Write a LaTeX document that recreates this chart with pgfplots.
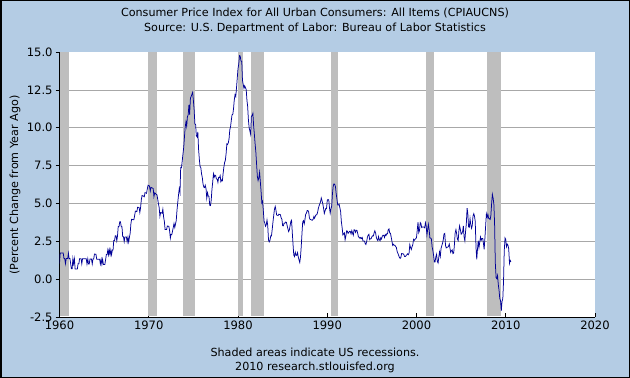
\documentclass[border=0pt]{standalone}
\usepackage{pgfplots}
\pgfplotsset{compat=1.18}
\usepackage{fontspec}
\setmainfont{DejaVu Sans}
\definecolor{bgblue}{RGB}{180,204,228}
\definecolor{recgray}{RGB}{190,190,190}
\definecolor{gridgray}{RGB}{168,168,168}
\definecolor{lineblue}{RGB}{0,0,150}
\newcommand{\chf}{\fontsize{11.2}{13}\selectfont}
\newcommand{\tkf}{\fontsize{11.6}{13}\selectfont}
\begin{document}
\chf
\begin{tikzpicture}
\fill[bgblue] (0bp,0bp) rectangle (630bp,378bp);
\draw[black, line width=1.5bp] (0.75bp,0.75bp) rectangle (629.25bp,377.25bp);
\node[font=\chf] at (315bp,365bp) {Consumer Price Index for All Urban Consumers: All Items (CPIAUCNS)};
\node[font=\chf] at (315bp,350bp) {Source: U.S. Department of Labor: Bureau of Labor Statistics};
\node[font=\chf] at (315bp,26bp) {Shaded areas indicate US recessions.};
\node[font=\chf] at (315bp,11bp) {2010 research.stlouisfed.org};
\node[font=\chf, rotate=90] at (15bp,193bp) {(Percent Change from Year Ago)};
\begin{axis}[
  at={(59.5bp,61bp)}, anchor=south west,
  scale only axis, width=535.5bp, height=265bp,
  xmin=1960, xmax=2020, ymin=-2.5, ymax=15,
  axis lines*=left,
  axis line style={black, line width=0.9bp},
  axis background/.style={fill=white},
  xtick={1960,1970,1980,1990,2000,2010,2020},
  ytick={-2.5,0,2.5,5,7.5,10,12.5},
  extra y ticks={15},
  extra y tick style={grid=none},
  ymajorgrids,
  grid style={gridgray, line width=0.7bp},
  xtick align=inside, ytick align=outside,
  major tick length=4bp,
  tick style={black, line width=0.7bp},
  /pgf/number format/assume math mode=true,
  tick label style={font=\tkf},
  yticklabel style={/pgf/number format/fixed, /pgf/number format/fixed zerofill, /pgf/number format/precision=1, xshift=1bp},
  extra y tick labels={15.0},
  xticklabel style={/pgf/number format/set thousands separator={}},
]
% recession bars
\addplot[fill=recgray, draw=none] coordinates {(1960.06,-2.45)(1960.06,15)(1961.1,15)(1961.1,-2.45)} -- cycle;
\addplot[fill=recgray, draw=none] coordinates {(1969.92,-2.45)(1969.92,15)(1970.9,15)(1970.9,-2.45)} -- cycle;
\addplot[fill=recgray, draw=none] coordinates {(1973.83,-2.45)(1973.83,15)(1975.2,15)(1975.2,-2.45)} -- cycle;
\addplot[fill=recgray, draw=none] coordinates {(1980.0,-2.45)(1980.0,15)(1980.58,15)(1980.58,-2.45)} -- cycle;
\addplot[fill=recgray, draw=none] coordinates {(1981.5,-2.45)(1981.5,15)(1982.88,15)(1982.88,-2.45)} -- cycle;
\addplot[fill=recgray, draw=none] coordinates {(1990.45,-2.45)(1990.45,15)(1991.17,15)(1991.17,-2.45)} -- cycle;
\addplot[fill=recgray, draw=none] coordinates {(2001.12,-2.45)(2001.12,15)(2001.92,15)(2001.92,-2.45)} -- cycle;
\addplot[fill=recgray, draw=none] coordinates {(2007.9,-2.45)(2007.9,15)(2009.45,15)(2009.45,-2.45)} -- cycle;
% CPI YoY
\addplot[lineblue, line width=0.75bp, mark=none] coordinates {
(1960.00,1.03)(1960.08,1.73)(1960.17,1.73)(1960.25,1.72)(1960.33,1.72)(1960.42,1.72)(1960.50,1.37)(1960.58,1.37)(1960.67,1.02)(1960.75,1.36)(1960.83,1.36)(1960.92,1.36)
(1961.00,1.71)(1961.08,1.36)(1961.17,1.36)(1961.25,1.02)(1961.33,0.68)(1961.42,0.68)(1961.50,1.35)(1961.58,1.01)(1961.67,1.35)(1961.75,0.67)(1961.83,0.67)(1961.92,0.67)
(1962.00,0.67)(1962.08,1.01)(1962.17,1.01)(1962.25,1.35)(1962.33,1.35)(1962.42,1.35)(1962.50,1.01)(1962.58,1.34)(1962.67,1.34)(1962.75,1.34)(1962.83,1.34)(1962.92,1.34)
(1963.00,1.34)(1963.08,1.00)(1963.17,1.34)(1963.25,1.00)(1963.33,1.00)(1963.42,1.33)(1963.50,1.33)(1963.58,1.33)(1963.67,1.00)(1963.75,1.33)(1963.83,1.33)(1963.92,1.66)
(1964.00,1.65)(1964.08,1.65)(1964.17,1.32)(1964.25,1.32)(1964.33,1.32)(1964.42,1.31)(1964.50,1.31)(1964.58,1.00)(1964.67,1.31)(1964.75,0.98)(1964.83,1.31)(1964.92,0.97)
(1965.00,0.97)(1965.08,0.97)(1965.17,1.30)(1965.25,1.62)(1965.33,1.62)(1965.42,1.94)(1965.50,1.61)(1965.58,1.94)(1965.67,1.61)(1965.75,1.93)(1965.83,1.61)(1965.92,1.92)
(1966.00,1.92)(1966.08,2.56)(1966.17,2.56)(1966.25,2.87)(1966.33,2.87)(1966.42,2.53)(1966.50,2.85)(1966.58,3.48)(1966.67,3.48)(1966.75,3.79)(1966.83,3.79)(1966.92,3.46)
(1967.00,3.46)(1967.08,2.81)(1967.17,2.80)(1967.25,2.48)(1967.33,2.79)(1967.42,2.79)(1967.50,2.78)(1967.58,2.46)(1967.67,2.77)(1967.75,2.45)(1967.83,2.75)(1967.92,3.04)
(1968.00,3.65)(1968.08,3.95)(1968.17,3.94)(1968.25,3.93)(1968.33,3.92)(1968.42,4.20)(1968.50,4.49)(1968.58,4.48)(1968.67,4.46)(1968.75,4.75)(1968.83,4.74)(1968.92,4.72)
(1969.00,4.40)(1969.08,4.70)(1969.17,5.25)(1969.25,5.52)(1969.33,5.51)(1969.42,5.48)(1969.50,5.44)(1969.58,5.71)(1969.67,5.70)(1969.75,5.67)(1969.83,5.93)(1969.92,6.20)
(1970.00,6.18)(1970.08,6.15)(1970.17,5.82)(1970.25,6.06)(1970.33,6.04)(1970.42,6.01)(1970.50,5.98)(1970.58,5.45)(1970.67,5.70)(1970.75,5.66)(1970.83,5.60)(1970.92,5.57)
(1971.00,5.29)(1971.08,5.00)(1971.17,4.71)(1971.25,4.16)(1971.33,4.40)(1971.42,4.38)(1971.50,4.35)(1971.58,4.62)(1971.67,4.08)(1971.75,3.80)(1971.83,3.28)(1971.92,3.27)
(1972.00,3.27)(1972.08,3.51)(1972.17,3.50)(1972.25,3.49)(1972.33,3.23)(1972.42,2.71)(1972.50,2.95)(1972.58,2.94)(1972.67,3.19)(1972.75,3.42)(1972.83,3.67)(1972.92,3.41)
(1973.00,3.65)(1973.08,3.87)(1973.17,4.59)(1973.25,5.06)(1973.33,5.53)(1973.42,5.98)(1973.50,5.73)(1973.58,7.38)(1973.67,7.36)(1973.75,7.80)(1973.83,8.25)(1973.92,8.71)
(1974.00,9.39)(1974.08,10.02)(1974.17,10.39)(1974.25,10.09)(1974.33,10.71)(1974.42,10.86)(1974.50,11.51)(1974.58,10.86)(1974.67,11.95)(1974.75,12.06)(1974.83,12.20)(1974.92,12.34)
(1975.00,11.80)(1975.08,11.23)(1975.17,10.25)(1975.25,10.21)(1975.33,9.47)(1975.42,9.39)(1975.50,9.72)(1975.58,8.60)(1975.67,7.91)(1975.75,7.44)(1975.83,7.38)(1975.92,6.94)
(1976.00,6.72)(1976.08,6.29)(1976.17,6.07)(1976.25,6.05)(1976.33,6.20)(1976.42,5.97)(1976.50,5.35)(1976.58,5.71)(1976.67,5.49)(1976.75,5.46)(1976.83,4.88)(1976.92,4.86)
(1977.00,5.22)(1977.08,5.91)(1977.17,6.44)(1977.25,6.95)(1977.33,6.73)(1977.42,6.87)(1977.50,6.83)(1977.58,6.62)(1977.67,6.60)(1977.75,6.39)(1977.83,6.72)(1977.92,6.70)
(1978.00,6.84)(1978.08,6.43)(1978.17,6.55)(1978.25,6.50)(1978.33,6.97)(1978.42,7.41)(1978.50,7.70)(1978.58,7.84)(1978.67,8.31)(1978.75,8.93)(1978.83,8.89)(1978.92,9.02)
(1979.00,9.28)(1979.08,9.86)(1979.17,10.09)(1979.25,10.49)(1979.33,10.85)(1979.42,10.89)(1979.50,11.26)(1979.58,11.82)(1979.67,12.18)(1979.75,12.07)(1979.83,12.61)(1979.92,13.29)
(1980.00,13.91)(1980.08,14.18)(1980.17,14.76)(1980.25,14.73)(1980.33,14.41)(1980.42,14.38)(1980.50,13.13)(1980.58,12.87)(1980.67,12.60)(1980.75,12.77)(1980.83,12.65)(1980.92,12.52)
(1981.00,11.83)(1981.08,11.41)(1981.17,10.49)(1981.25,10.00)(1981.33,9.78)(1981.42,9.55)(1981.50,10.76)(1981.58,10.80)(1981.67,10.95)(1981.75,10.14)(1981.83,9.59)(1981.92,8.92)
(1982.00,8.39)(1982.08,7.62)(1982.17,6.78)(1982.25,6.51)(1982.33,6.68)(1982.42,7.06)(1982.50,6.44)(1982.58,5.85)(1982.67,5.04)(1982.75,5.14)(1982.83,4.59)(1982.92,3.83)
(1983.00,3.71)(1983.08,3.49)(1983.17,3.60)(1983.25,3.90)(1983.33,3.55)(1983.42,2.58)(1983.50,2.46)(1983.58,2.56)(1983.67,2.86)(1983.75,2.85)(1983.83,3.27)(1983.92,3.79)
(1984.00,4.19)(1984.08,4.60)(1984.17,4.80)(1984.25,4.56)(1984.33,4.23)(1984.42,4.22)(1984.50,4.20)(1984.58,4.29)(1984.67,4.27)(1984.75,4.26)(1984.83,4.05)(1984.92,3.95)
(1985.00,3.53)(1985.08,3.52)(1985.17,3.70)(1985.25,3.69)(1985.33,3.77)(1985.42,3.76)(1985.50,3.55)(1985.58,3.35)(1985.67,3.14)(1985.75,3.23)(1985.83,3.51)(1985.92,3.80)
(1986.00,3.89)(1986.08,3.11)(1986.17,2.26)(1986.25,1.59)(1986.33,1.49)(1986.42,1.77)(1986.50,1.58)(1986.58,1.57)(1986.67,1.75)(1986.75,1.47)(1986.83,1.28)(1986.92,1.10)
(1987.00,1.46)(1987.08,2.10)(1987.17,3.03)(1987.25,3.78)(1987.33,3.86)(1987.42,3.65)(1987.50,3.93)(1987.58,4.28)(1987.67,4.36)(1987.75,4.53)(1987.83,4.53)(1987.92,4.43)
(1988.00,4.05)(1988.08,3.94)(1988.17,3.93)(1988.25,3.90)(1988.33,3.89)(1988.42,3.96)(1988.50,4.13)(1988.58,4.02)(1988.67,4.17)(1988.75,4.25)(1988.83,4.25)(1988.92,4.42)
(1989.00,4.67)(1989.08,4.83)(1989.17,4.98)(1989.25,5.11)(1989.33,5.36)(1989.42,5.17)(1989.50,4.98)(1989.58,4.71)(1989.67,4.34)(1989.75,4.49)(1989.83,4.66)(1989.92,4.65)
(1990.00,5.20)(1990.08,5.26)(1990.17,5.23)(1990.25,4.71)(1990.33,4.36)(1990.42,4.67)(1990.50,4.82)(1990.58,5.62)(1990.67,6.16)(1990.75,6.29)(1990.83,6.27)(1990.92,6.11)
(1991.00,5.65)(1991.08,5.31)(1991.17,4.90)(1991.25,4.89)(1991.33,4.95)(1991.42,4.70)(1991.50,4.45)(1991.58,3.80)(1991.67,3.39)(1991.75,2.92)(1991.83,2.99)(1991.92,3.06)
(1992.00,2.60)(1992.08,2.82)(1992.17,3.19)(1992.25,3.18)(1992.33,3.02)(1992.42,3.09)(1992.50,3.16)(1992.58,3.15)(1992.67,2.99)(1992.75,3.20)(1992.83,3.05)(1992.92,2.90)
(1993.00,3.26)(1993.08,3.25)(1993.17,3.09)(1993.25,3.23)(1993.33,3.22)(1993.42,3.00)(1993.50,2.78)(1993.58,2.77)(1993.67,2.69)(1993.75,2.75)(1993.83,2.68)(1993.92,2.75)
(1994.00,2.52)(1994.08,2.52)(1994.17,2.51)(1994.25,2.36)(1994.33,2.29)(1994.42,2.49)(1994.50,2.77)(1994.58,2.90)(1994.67,2.96)(1994.75,2.61)(1994.83,2.67)(1994.92,2.67)
(1995.00,2.80)(1995.08,2.86)(1995.17,2.85)(1995.25,3.05)(1995.33,3.19)(1995.42,3.04)(1995.50,2.76)(1995.58,2.62)(1995.67,2.54)(1995.75,2.81)(1995.83,2.61)(1995.92,2.54)
(1996.00,2.73)(1996.08,2.65)(1996.17,2.84)(1996.25,2.90)(1996.33,2.89)(1996.42,2.75)(1996.50,2.95)(1996.58,2.88)(1996.67,3.00)(1996.75,2.99)(1996.83,3.26)(1996.92,3.32)
(1997.00,3.04)(1997.08,3.03)(1997.17,2.76)(1997.25,2.50)(1997.33,2.23)(1997.42,2.30)(1997.50,2.23)(1997.58,2.23)(1997.67,2.15)(1997.75,2.08)(1997.83,1.83)(1997.92,1.70)
(1998.00,1.57)(1998.08,1.44)(1998.17,1.37)(1998.25,1.44)(1998.33,1.69)(1998.42,1.68)(1998.50,1.68)(1998.58,1.62)(1998.67,1.49)(1998.75,1.49)(1998.83,1.55)(1998.92,1.61)
(1999.00,1.67)(1999.08,1.61)(1999.17,1.73)(1999.25,2.28)(1999.33,2.09)(1999.42,1.96)(1999.50,2.14)(1999.58,2.26)(1999.67,2.63)(1999.75,2.56)(1999.83,2.62)(1999.92,2.68)
(2000.00,2.74)(2000.08,3.22)(2000.17,3.76)(2000.25,3.07)(2000.33,3.19)(2000.42,3.73)(2000.50,3.66)(2000.58,3.41)(2000.67,3.45)(2000.75,3.45)(2000.83,3.45)(2000.92,3.39)
(2001.00,3.73)(2001.08,3.53)(2001.17,2.92)(2001.25,3.27)(2001.33,3.62)(2001.42,3.25)(2001.50,2.72)(2001.58,2.72)(2001.67,2.65)(2001.75,2.13)(2001.83,1.90)(2001.92,1.55)
(2002.00,1.14)(2002.08,1.14)(2002.17,1.48)(2002.25,1.64)(2002.33,1.18)(2002.42,1.07)(2002.50,1.46)(2002.58,1.80)(2002.67,1.51)(2002.75,2.03)(2002.83,2.20)(2002.92,2.38)
(2003.00,2.60)(2003.08,2.98)(2003.17,3.02)(2003.25,2.22)(2003.33,2.06)(2003.42,2.11)(2003.50,2.11)(2003.58,2.16)(2003.67,2.32)(2003.75,2.04)(2003.83,1.77)(2003.92,1.88)
(2004.00,1.93)(2004.08,1.69)(2004.17,1.74)(2004.25,2.29)(2004.33,3.05)(2004.42,3.27)(2004.50,2.99)(2004.58,2.65)(2004.67,2.54)(2004.75,3.19)(2004.83,3.52)(2004.92,3.26)
(2005.00,2.97)(2005.08,3.01)(2005.17,3.15)(2005.25,3.51)(2005.33,2.80)(2005.42,2.53)(2005.50,3.17)(2005.58,3.64)(2005.67,4.69)(2005.75,4.35)(2005.83,3.46)(2005.92,3.42)
(2006.00,3.99)(2006.08,3.60)(2006.17,3.36)(2006.25,3.55)(2006.33,4.17)(2006.42,4.32)(2006.50,4.15)(2006.58,3.82)(2006.67,2.06)(2006.75,1.31)(2006.83,1.97)(2006.92,2.54)
(2007.00,2.08)(2007.08,2.42)(2007.17,2.78)(2007.25,2.57)(2007.33,2.69)(2007.42,2.69)(2007.50,2.36)(2007.58,1.97)(2007.67,2.76)(2007.75,3.54)(2007.83,4.31)(2007.92,4.08)
(2008.00,4.28)(2008.08,4.03)(2008.17,3.98)(2008.25,3.94)(2008.33,4.18)(2008.42,5.02)(2008.50,5.60)(2008.58,5.37)(2008.67,4.94)(2008.75,3.66)(2008.83,1.07)(2008.92,0.09)
(2009.00,0.03)(2009.08,0.24)(2009.17,-0.38)(2009.25,-0.74)(2009.33,-1.28)(2009.42,-1.43)(2009.50,-2.10)(2009.58,-1.48)(2009.67,-1.29)(2009.75,-0.18)(2009.83,1.84)(2009.92,2.72)
(2010.00,2.63)(2010.08,2.14)(2010.17,2.31)(2010.25,2.24)(2010.33,2.02)(2010.42,1.05)(2010.50,1.24)(2010.58,1.15)
};
\end{axis}
\end{tikzpicture}
\end{document}
